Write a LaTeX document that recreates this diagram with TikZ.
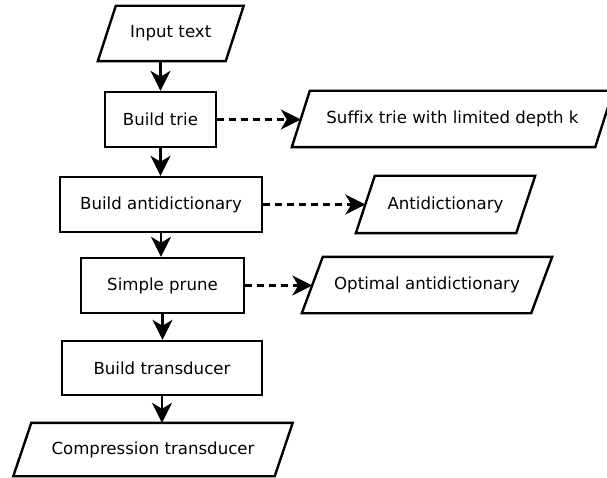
\documentclass[tikz,border=0pt]{standalone}
\usepackage{fontspec}
\setmainfont{DejaVu Sans}[Ligatures=NoCommon]
\usetikzlibrary{arrows.meta,calc}
\begin{document}
\begin{tikzpicture}[x=1pt,y=-1pt,
  every node/.style={font=\fontsize{16.6}{20}\selectfont},
  proc/.style={draw,line width=2.4pt,inner sep=0pt,align=center},
  iobox/.style={inner sep=0pt,align=center},
  arr/.style={line width=2.4pt,-{Stealth[length=20pt,width=20pt,inset=6pt]}},
  darr/.style={arr,dash pattern=on 7pt off 5pt}
]
\useasboundingbox (0,0) rectangle (607,478);
\newcommand{\paraoutline}[2]{%
  \draw[line width=2.4pt,line join=miter]
    ([xshift=#2]#1.north west) -- ([xshift=#2]#1.north east) --
    ([xshift=-#2]#1.south east) -- ([xshift=-#2]#1.south west) -- cycle;}
% nodes
\node[iobox,minimum width=127.5pt,minimum height=55pt] (in) at (170.75,33.5) {Input text};
\node[proc,minimum width=111pt,minimum height=55pt] (bt) at (160.5,119.5) {Build trie};
\node[iobox,minimum width=303pt,minimum height=56pt] (sfx) at (452.5,119) {Suffix trie with limited depth k};
\node[proc,minimum width=202pt,minimum height=55pt] (ba) at (161,204.5) {Build antidictionary};
\node[iobox,minimum width=160pt,minimum height=57pt] (ad) at (445.5,204.5) {Antidictionary};
\node[proc,minimum width=163pt,minimum height=55pt] (sp) at (162.5,285.5) {Simple prune};
\node[iobox,minimum width=229pt,minimum height=56pt] (oa) at (427,285) {Optimal antidictionary};
\node[proc,minimum width=200pt,minimum height=54pt] (bx) at (162,368) {Build transducer};
\node[iobox,minimum width=261pt,minimum height=53pt] (ct) at (153,449.5) {Compression transducer};
% parallelogram outlines
\paraoutline{in}{9pt}
\paraoutline{sfx}{9pt}
\paraoutline{ad}{9.5pt}
\paraoutline{oa}{10.5pt}
\paraoutline{ct}{9pt}
% connectors
\draw[arr] (in.south -| bt.north) -- (bt.north);
\draw[arr] (bt.south) -- (bt.south |- ba.north);
\draw[arr] (ba.south) -- (ba.south |- sp.north);
\draw[arr] (sp.south) -- (sp.south |- bx.north);
\draw[arr] (bx.south) -- (bx.south |- ct.north);
\draw[darr] (bt.east) -- (bt.east -| sfx.west);
\draw[darr] (ba.east) -- (ba.east -| ad.west);
\draw[darr] (sp.east) -- (sp.east -| oa.west);
\end{tikzpicture}
\end{document}
